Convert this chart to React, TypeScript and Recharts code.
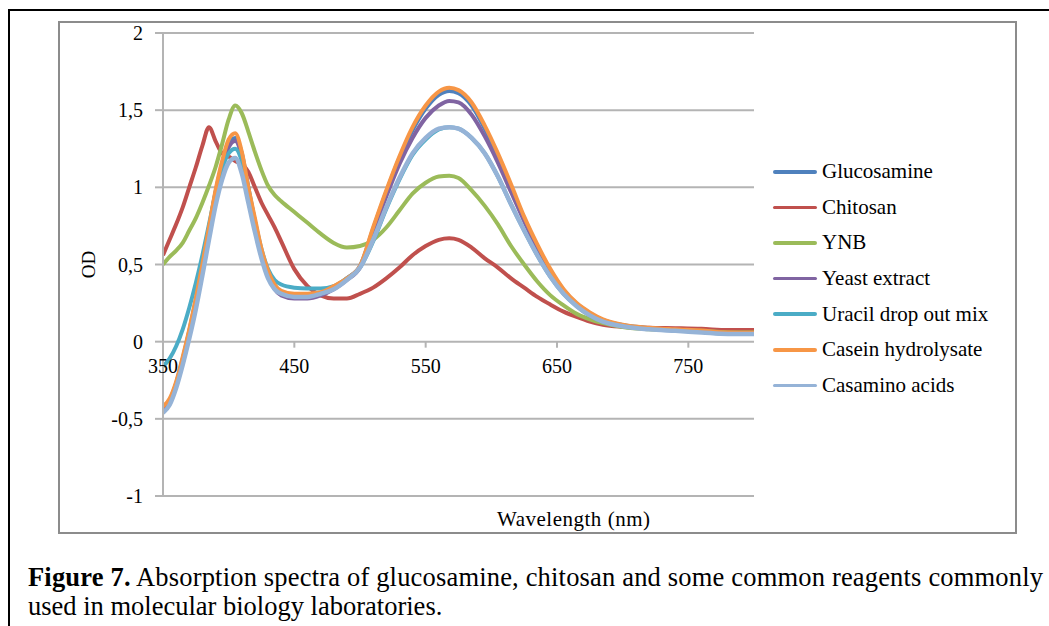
import React from 'react';
import { LineChart, Line, XAxis, YAxis, CartesianGrid, Legend } from 'recharts';

const FONT = "'Liberation Serif', 'Times New Roman', serif";

const wavelengths = [350, 355, 360, 365, 370, 375, 380, 385, 390, 395, 400, 405, 410, 415, 420, 425, 430, 435, 440, 450, 460, 470, 480, 490, 500, 510, 520, 530, 540, 550, 560, 568, 575, 585, 595, 605, 615, 625, 635, 645, 655, 665, 675, 685, 700, 720, 740, 760, 780, 800];

const glucosamine = [-0.44, -0.38, -0.27, -0.11, 0.07, 0.27, 0.49, 0.73, 0.97, 1.15, 1.28, 1.32, 1.22, 1.0, 0.78, 0.58, 0.44, 0.35, 0.31, 0.29, 0.29, 0.31, 0.35, 0.41, 0.49, 0.73, 0.97, 1.19, 1.37, 1.51, 1.6, 1.625, 1.61, 1.53, 1.38, 1.2, 1.0, 0.8, 0.62, 0.46, 0.335, 0.245, 0.185, 0.14, 0.108, 0.088, 0.078, 0.07, 0.058, 0.056];
const chitosan = [0.56, 0.66, 0.76, 0.87, 1.0, 1.13, 1.27, 1.39, 1.3, 1.22, 1.2, 1.17, 1.15, 1.1, 1.0, 0.9, 0.82, 0.74, 0.65, 0.47, 0.36, 0.3, 0.28, 0.28, 0.31, 0.35, 0.41, 0.48, 0.56, 0.62, 0.66, 0.67, 0.66, 0.61, 0.54, 0.48, 0.41, 0.35, 0.29, 0.24, 0.195, 0.16, 0.13, 0.11, 0.097, 0.09, 0.087, 0.083, 0.075, 0.075];
const ynb = [0.5, 0.55, 0.59, 0.64, 0.72, 0.8, 0.9, 1.01, 1.13, 1.28, 1.44, 1.53, 1.48, 1.36, 1.23, 1.11, 1.01, 0.95, 0.91, 0.84, 0.77, 0.7, 0.64, 0.61, 0.62, 0.66, 0.74, 0.85, 0.96, 1.03, 1.07, 1.075, 1.06, 0.98, 0.88, 0.76, 0.62, 0.5, 0.39, 0.3, 0.235, 0.18, 0.145, 0.12, 0.095, 0.08, 0.075, 0.07, 0.06, 0.06];
const yeastExtract = [-0.44, -0.39, -0.28, -0.12, 0.05, 0.25, 0.47, 0.71, 0.95, 1.13, 1.26, 1.3, 1.2, 0.98, 0.76, 0.57, 0.43, 0.34, 0.3, 0.28, 0.28, 0.3, 0.34, 0.4, 0.48, 0.71, 0.94, 1.15, 1.32, 1.45, 1.53, 1.56, 1.55, 1.47, 1.33, 1.16, 0.97, 0.78, 0.6, 0.45, 0.33, 0.24, 0.18, 0.14, 0.105, 0.085, 0.075, 0.068, 0.055, 0.055];
const uracilMix = [-0.16, -0.11, -0.03, 0.08, 0.22, 0.38, 0.56, 0.76, 0.96, 1.12, 1.22, 1.25, 1.17, 0.98, 0.78, 0.6, 0.47, 0.4, 0.37, 0.35, 0.345, 0.345, 0.36, 0.41, 0.48, 0.65, 0.86, 1.05, 1.21, 1.31, 1.375, 1.39, 1.38, 1.32, 1.22, 1.07, 0.89, 0.72, 0.56, 0.42, 0.31, 0.23, 0.17, 0.13, 0.105, 0.085, 0.075, 0.065, 0.05, 0.05];
const caseinHydrolysate = [-0.42, -0.37, -0.26, -0.1, 0.08, 0.28, 0.5, 0.74, 0.98, 1.17, 1.31, 1.35, 1.23, 1.0, 0.8, 0.6, 0.46, 0.37, 0.33, 0.31, 0.31, 0.32, 0.36, 0.41, 0.49, 0.74, 0.98, 1.2, 1.39, 1.53, 1.62, 1.645, 1.63, 1.55, 1.4, 1.22, 1.02, 0.81, 0.63, 0.47, 0.34, 0.25, 0.19, 0.145, 0.11, 0.09, 0.08, 0.072, 0.06, 0.058];
const casaminoAcids = [-0.46, -0.41, -0.3, -0.15, 0.02, 0.21, 0.43, 0.66, 0.88, 1.05, 1.16, 1.19, 1.09, 0.9, 0.71, 0.54, 0.41, 0.34, 0.31, 0.29, 0.29, 0.31, 0.34, 0.4, 0.48, 0.66, 0.87, 1.06, 1.22, 1.32, 1.38, 1.39, 1.38, 1.32, 1.22, 1.07, 0.89, 0.72, 0.56, 0.42, 0.31, 0.23, 0.17, 0.13, 0.1, 0.08, 0.07, 0.06, 0.05, 0.05];

const seriesNames = ['Glucosamine', 'Chitosan', 'YNB', 'Yeast extract', 'Uracil drop out mix', 'Casein hydrolysate', 'Casamino acids'];
const seriesColors = ['#4F81BD', '#C0504D', '#9BBB59', '#8064A2', '#4BACC6', '#F79646', '#95B3D7'];
const seriesValues = [glucosamine, chitosan, ynb, yeastExtract, uracilMix, caseinHydrolysate, casaminoAcids];

const xTicks = [350, 450, 550, 650, 750];
const yTicks = [-1, -0.5, 0, 0.5, 1, 1.5, 2];
const X_DOMAIN: [number, number] = [350, 800];
const Y_DOMAIN: [number, number] = [-1, 2];

const data = wavelengths.map((nm, i) => {
  const row: Record<string, number> = { nm };
  seriesNames.forEach((name, k) => {
    row[name] = seriesValues[k][i];
  });
  return row;
});

const CHART_W = 1049;
const CHART_H = 626;
const MARGIN = { top: 33, right: 295, bottom: 100, left: 103 };
const X_AXIS_H = 30;
const PLOT_H = CHART_H - MARGIN.top - MARGIN.bottom - X_AXIS_H;
const GRID = '#b4b4b4';

// x-axis crosses at OD = 0, position derived from the y domain
const zeroY = MARGIN.top + PLOT_H * (Y_DOMAIN[1] - 0) / (Y_DOMAIN[1] - Y_DOMAIN[0]);

const XTick = (props: any) => {
  const { x, payload } = props;
  return (
    <g>
      <line x1={x} x2={x} y1={zeroY} y2={zeroY + 6} stroke={GRID} strokeWidth={2} />
      <text x={x} y={zeroY + 31} textAnchor="middle" fill="#000" fontSize={20} fontFamily={FONT}>
        {payload.value}
      </text>
    </g>
  );
};

const LegendContent = (props: any) => {
  const payload = [...(props.payload || [])].sort(
    (a: any, b: any) => seriesNames.indexOf(a.value) - seriesNames.indexOf(b.value)
  );
  return (
    <div style={{ fontFamily: FONT, fontSize: 21, color: '#000' }}>
      {payload.map((p: any) => (
        <div key={p.value} style={{ display: 'flex', alignItems: 'center', height: 35.6, whiteSpace: 'nowrap' }}>
          <div style={{ width: 44, height: 3.5, background: p.color, borderRadius: 2, marginRight: 5 }} />
          <span>{p.value}</span>
        </div>
      ))}
    </div>
  );
};

export default function App() {
  return (
    <div style={{ position: 'absolute', left: 0, top: 0, width: CHART_W, height: CHART_H, overflow: 'hidden', background: '#fff' }}>
      <div style={{ position: 'absolute', left: 8, top: 9, width: 1100, height: 700, border: '2px solid #000', boxSizing: 'border-box' }} />
      <div style={{ position: 'absolute', left: 58, top: 21, width: 959, height: 513, border: '2px solid #8c8c8c', boxSizing: 'border-box' }} />
      <div style={{ position: 'absolute', left: 0, top: 0 }}>
        <LineChart width={CHART_W} height={CHART_H} data={data} margin={MARGIN}>
          <CartesianGrid vertical={false} stroke={GRID} strokeWidth={2} />
          <XAxis
            type="number"
            dataKey="nm"
            domain={X_DOMAIN}
            ticks={xTicks}
            interval={0}
            allowDataOverflow
            axisLine={false}
            tickLine={false}
            height={X_AXIS_H}
            tick={(p: any) => <XTick {...p} />}
          />
          <YAxis
            type="number"
            domain={Y_DOMAIN}
            ticks={yTicks}
            interval={0}
            width={60}
            allowDataOverflow
            tickFormatter={(v: number) => String(v).replace('.', ',')}
            axisLine={{ stroke: GRID, strokeWidth: 2 }}
            tickLine={{ stroke: GRID, strokeWidth: 2 }}
            tickSize={8}
            tickMargin={12}
            tick={{ fill: '#000', fontSize: 20, fontFamily: FONT }}
          />
          <Legend
            layout="horizontal"
            verticalAlign="middle"
            align="center"
            content={(p: any) => <LegendContent {...p} />}
            wrapperStyle={{ left: 773, top: 154, width: 260 }}
          />
          {seriesNames.map((name, k) => (
            <Line
              key={name}
              type="monotone"
              dataKey={name}
              name={name}
              stroke={seriesColors[k]}
              strokeWidth={k === 6 ? 4.5 : 4}
              dot={false}
              activeDot={false}
              isAnimationActive={false}
            />
          ))}
        </LineChart>
      </div>
      <svg width={CHART_W} height={CHART_H} style={{ position: 'absolute', left: 0, top: 0, pointerEvents: 'none' }}>
        <text
          x={88.5}
          y={264.5}
          transform="rotate(-90 88.5 264.5)"
          textAnchor="middle"
          dominantBaseline="central"
          fontSize={19}
          fontFamily={FONT}
          fill="#000"
        >
          OD
        </text>
        <text x={497} y={526} fontSize={21} fontFamily={FONT} fill="#000" textLength={153} lengthAdjust="spacing">
          Wavelength (nm)
        </text>
        <text x={28} y={586} fontSize={26.5} fontFamily={FONT} fill="#000" textLength={1015} lengthAdjust="spacing">
          <tspan fontWeight="bold">Figure 7.</tspan>
          <tspan> Absorption spectra of glucosamine, chitosan and some common reagents commonly</tspan>
        </text>
        <text x={28} y={615} fontSize={26.5} fontFamily={FONT} fill="#000">
          used in molecular biology laboratories.
        </text>
      </svg>
    </div>
  );
}
